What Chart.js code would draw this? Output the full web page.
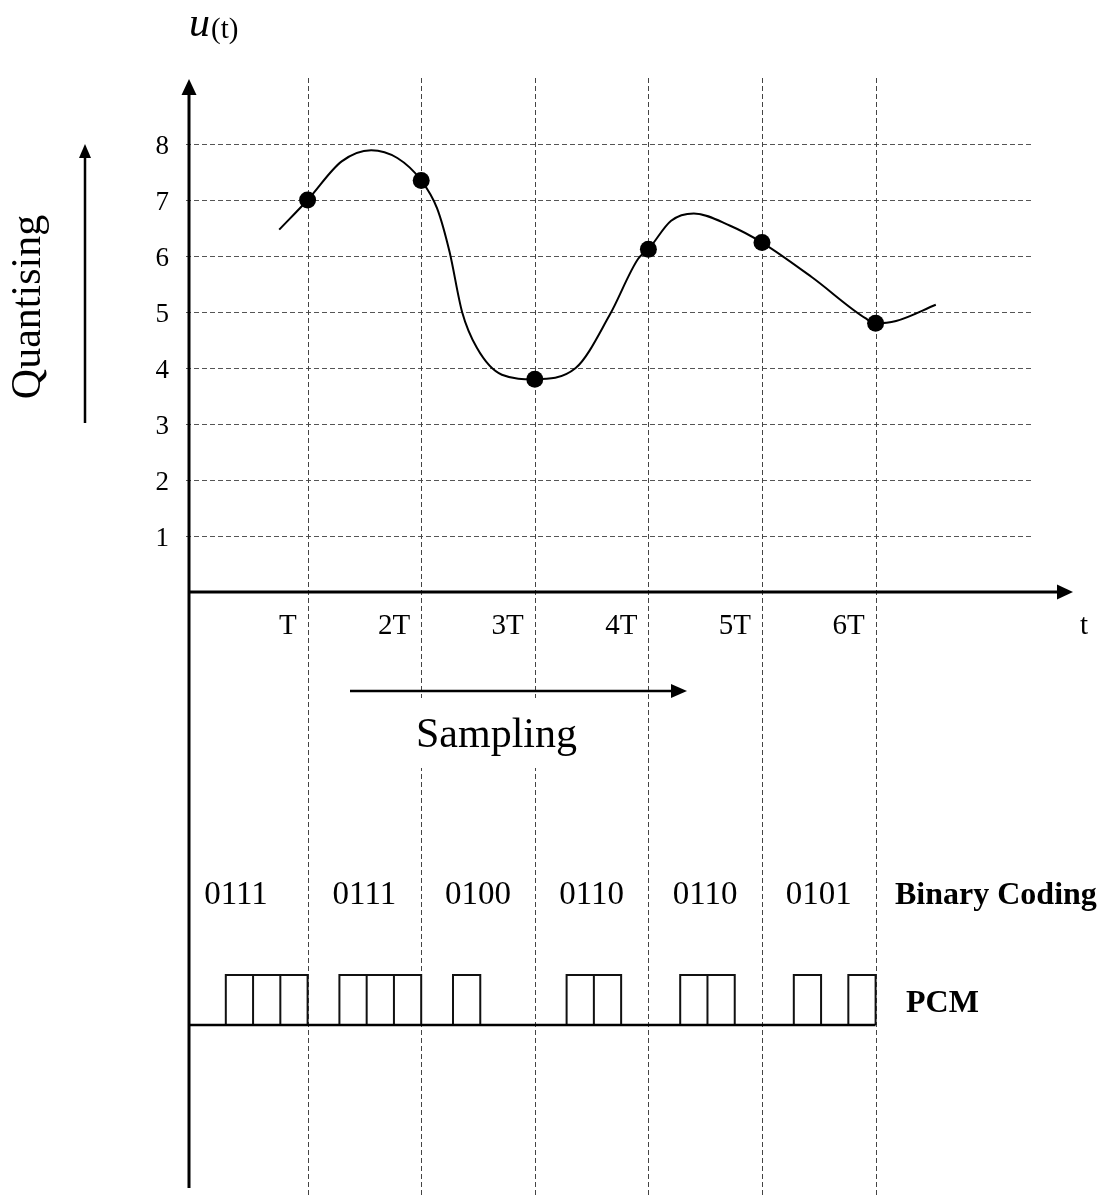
<!DOCTYPE html>
<html>
<head>
<meta charset="utf-8">
<title>PCM: sampling, quantising and binary coding</title>
<script src="https://cdn.jsdelivr.net/npm/chart.js@4.4.1/dist/chart.umd.min.js"></script>
<style>
  html, body { margin: 0; padding: 0; background: #ffffff; }
  #wrap { position: relative; width: 1104px; height: 1197px; }
</style>
</head>
<body>
<div id="wrap"><canvas id="pcm" width="1104" height="1197"></canvas></div>
<script>
// Sampling instants (in units of T) and their axis labels
const sampleTimes = [1, 2, 3, 4, 5, 6];
const sampleTickLabels = ['T', '2T', '3T', '4T', '5T', '6T'];
// Signal value at each sampling instant
const sampleValues = [7.0, 7.35, 3.8, 6.12, 6.24, 4.8];
// Quantising levels shown on the vertical axis
const levelTicks = [1, 2, 3, 4, 5, 6, 7, 8];
// 4-bit code word of each quantised sample
const binaryCodes = ['0111', '0111', '0100', '0110', '0110', '0101'];
// Analogue signal u(t)
const signalTimes  = [0.75, 1.00, 1.30, 1.56, 1.79, 2.00, 2.14, 2.25, 2.36, 2.49, 2.71, 3.00, 3.36, 3.66, 3.91, 4.00, 4.20, 4.40, 4.72, 5.00, 5.44, 5.91, 6.00, 6.18, 6.53];
const signalValues = [6.47, 7.00, 7.69, 7.89, 7.75, 7.35, 6.85, 6.07, 5.00, 4.36, 3.88, 3.80, 4.00, 4.95, 5.95, 6.12, 6.63, 6.76, 6.54, 6.24, 5.62, 4.89, 4.80, 4.84, 5.13];

// Layout constants (axis units)
const AXIS_START = -0.044;   // where the vertical axis crosses the time axis
const GRID_END = 7.386;      // right end of the level lines
const PULSE_BASE = -7.73;
const PULSE_TOP = -6.84;
const BIT_WIDTH = 0.24;
const LEAD_CODE_SHIFT = -0.13; // first code word sits a little nearer the axis
const SERIF = '"Liberation Serif", "Times New Roman", serif';

// Build rectangular pulses from the code words: each "1" bit is one pulse,
// the four bit cells of a word end at its sampling instant.
const pulsePoints = [];
binaryCodes.forEach((code, k) => {
  const end = sampleTimes[k];
  code.split('').forEach((bit, j) => {
    if (bit !== '1') return;
    const x0 = end - (code.length - j) * BIT_WIDTH;
    const x1 = x0 + BIT_WIDTH;
    pulsePoints.push({ x: x0, y: PULSE_BASE }, { x: x0, y: PULSE_TOP },
                     { x: x1, y: PULSE_TOP }, { x: x1, y: PULSE_BASE },
                     { x: x1, y: null });
  });
});

function arrowHead(ctx, tipX, tipY, dir, len, half) {
  ctx.beginPath();
  if (dir === 'up') {
    ctx.moveTo(tipX, tipY); ctx.lineTo(tipX - half, tipY + len); ctx.lineTo(tipX + half, tipY + len);
  } else {
    ctx.moveTo(tipX, tipY); ctx.lineTo(tipX - len, tipY - half); ctx.lineTo(tipX - len, tipY + half);
  }
  ctx.closePath();
  ctx.fill();
}

const diagramPlugin = {
  id: 'pcmDiagram',
  beforeDatasetsDraw(chart) {
    const { ctx, chartArea } = chart;
    const xs = chart.scales.x, ys = chart.scales.y;
    ctx.save();
    // horizontal dashed lines at the quantising levels
    ctx.strokeStyle = '#555555';
    ctx.lineWidth = 1;
    ctx.setLineDash([5, 3]);
    levelTicks.forEach(v => {
      const y = Math.round(ys.getPixelForValue(v)) + 0.5;
      ctx.beginPath();
      ctx.moveTo(xs.getPixelForValue(AXIS_START) - 3, y);
      ctx.lineTo(xs.getPixelForValue(GRID_END), y);
      ctx.stroke();
    });
    // vertical dashed lines at the sampling instants
    ctx.strokeStyle = '#444444';
    sampleTimes.forEach(t => {
      const x = Math.round(xs.getPixelForValue(t)) + 0.5;
      ctx.beginPath();
      ctx.moveTo(x, chartArea.top);
      ctx.lineTo(x, chartArea.bottom);
      ctx.stroke();
    });
    ctx.setLineDash([]);
    // white label area behind "Sampling"
    ctx.fillStyle = '#ffffff';
    ctx.fillRect(402, 698, 186, 70);
    ctx.restore();
  },
  afterDatasetsDraw(chart) {
    const { ctx } = chart;
    const xs = chart.scales.x, ys = chart.scales.y;
    const x0 = xs.getPixelForValue(AXIS_START), y0 = ys.getPixelForValue(0);
    ctx.save();
    ctx.fillStyle = '#000000';
    ctx.strokeStyle = '#000000';
    ctx.setLineDash([]);

    // axes with arrow heads
    ctx.lineWidth = 3;
    ctx.beginPath();
    ctx.moveTo(x0, 1188); ctx.lineTo(x0, 92);
    ctx.moveTo(x0 - 1.5, y0); ctx.lineTo(1058, y0);
    ctx.stroke();
    arrowHead(ctx, x0, 79, 'up', 16, 7.5);
    arrowHead(ctx, 1073, y0, 'right', 16, 7.5);

    // level labels
    ctx.font = '27px ' + SERIF;
    ctx.textAlign = 'right';
    ctx.textBaseline = 'middle';
    levelTicks.forEach(v => ctx.fillText(String(v), 169, ys.getPixelForValue(v) + 3));

    // sampling instant labels
    ctx.font = '29px ' + SERIF;
    ctx.textBaseline = 'alphabetic';
    sampleTimes.forEach((t, i) => ctx.fillText(sampleTickLabels[i], xs.getPixelForValue(t) - 11, 634));
    ctx.textAlign = 'left';
    ctx.fillText('t', 1080, 634);

    // u(t)
    ctx.font = 'italic 42px ' + SERIF;
    ctx.fillText('u', 189, 36);
    const uw = ctx.measureText('u').width;
    ctx.font = '29px ' + SERIF;
    ctx.fillText('(t)', 189 + uw + 1, 38);

    // Quantising arrow and label
    ctx.lineWidth = 2.5;
    ctx.beginPath();
    ctx.moveTo(85, 423); ctx.lineTo(85, 156);
    ctx.stroke();
    arrowHead(ctx, 85, 144, 'up', 14, 6);
    ctx.save();
    ctx.translate(40, 307);
    ctx.rotate(-Math.PI / 2);
    ctx.font = '42px ' + SERIF;
    ctx.textAlign = 'center';
    ctx.fillText('Quantising', 0, 0);
    ctx.restore();

    // Sampling arrow and label
    ctx.beginPath();
    ctx.moveTo(350, 691); ctx.lineTo(672, 691);
    ctx.stroke();
    arrowHead(ctx, 687, 691, 'right', 16, 7);
    ctx.font = '42px ' + SERIF;
    ctx.textAlign = 'left';
    ctx.fillText('Sampling', 416, 747);

    // code words, centred in their sampling intervals
    ctx.font = '33px ' + SERIF;
    ctx.textAlign = 'center';
    binaryCodes.forEach((code, k) => {
      const cx = sampleTimes[k] - 0.5 + (k === 0 ? LEAD_CODE_SHIFT : 0);
      ctx.fillText(code, xs.getPixelForValue(cx), 904);
    });
    ctx.font = 'bold 32px ' + SERIF;
    ctx.textAlign = 'left';
    ctx.fillText('Binary Coding', 895, 904);
    ctx.fillText('PCM', 906, 1012);
    ctx.restore();
  }
};

new Chart(document.getElementById('pcm'), {
  type: 'scatter',
  data: {
    datasets: [
      {
        label: 'u(t)',
        data: signalTimes.map((t, i) => ({ x: t, y: signalValues[i] })),
        showLine: true,
        borderColor: '#000000',
        borderWidth: 2,
        cubicInterpolationMode: 'monotone',
        pointRadius: 0,
        order: 2
      },
      {
        label: 'samples',
        data: sampleTimes.map((t, i) => ({ x: t, y: sampleValues[i] })),
        showLine: false,
        pointRadius: 8.5,
        pointBackgroundColor: '#000000',
        pointBorderWidth: 0,
        order: 1
      },
      {
        label: 'PCM baseline',
        data: [{ x: AXIS_START, y: PULSE_BASE }, { x: sampleTimes[sampleTimes.length - 1], y: PULSE_BASE }],
        showLine: true,
        borderColor: '#000000',
        borderWidth: 2.5,
        pointRadius: 0
      },
      {
        label: 'PCM pulses',
        data: pulsePoints,
        showLine: true,
        spanGaps: false,
        borderColor: '#111111',
        borderWidth: 2,
        pointRadius: 0,
        tension: 0
      }
    ]
  },
  options: {
    responsive: false,
    animation: false,
    events: [],
    layout: { autoPadding: false, padding: { left: 189, right: 0, top: 78, bottom: 0 } },
    scales: {
      x: { type: 'linear', min: AXIS_START, max: AXIS_START + 915 / 113.6, display: false },
      y: { type: 'linear', min: -605 / 56, max: 514 / 56, display: false }
    },
    plugins: { legend: { display: false }, tooltip: { enabled: false } }
  },
  plugins: [diagramPlugin]
});
</script>
</body>
</html>
